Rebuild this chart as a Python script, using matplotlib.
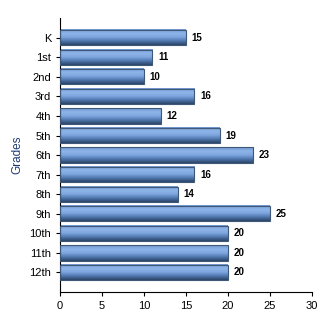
import matplotlib
matplotlib.use('Agg')
import matplotlib.pyplot as plt
import numpy as np

grades = ['K', '1st', '2nd', '3rd', '4th', '5th', '6th', '7th', '8th', '9th', '10th', '11th', '12th']
counts = [15, 11, 10, 16, 12, 19, 23, 16, 14, 25, 20, 20, 20]

plt.rcParams['font.family'] = ['Liberation Sans', 'DejaVu Sans']

fig = plt.figure(figsize=(3.3, 3.3), dpi=100)
ax = fig.add_axes([0.182, 0.115, 0.763, 0.83])

# vertical gradient: light on top, dark at the bottom
grad = np.linspace(0, 1, 64).reshape(-1, 1)
cmap = matplotlib.colors.LinearSegmentedColormap.from_list(
    'bar', ['#6f96cf', '#8fb6ea', '#7ea6df', '#4f76ad', '#2c4568'])

bar_h = 0.78
ys = np.arange(len(grades))
bars = ax.barh(ys, counts, height=bar_h, color='none', edgecolor='#3f5878', linewidth=0.8, zorder=3)
for b in bars:
    x0, y0 = b.get_x(), b.get_y()
    w, h = b.get_width(), b.get_height()
    ax.imshow(grad, cmap=cmap, aspect='auto', extent=(x0, x0 + w, y0 + h, y0),
              origin='upper', zorder=2, interpolation='bilinear')

for y, v in zip(ys, counts):
    ax.text(v + 0.7, y, str(v), va='center', ha='left', fontsize=7,
            fontweight='bold', color='black', zorder=4)

ax.set_xlim(0, 30)
ax.set_ylim(13.0, -1.0)
ax.set_xticks(range(0, 31, 5))
ax.set_yticks(ys)
ax.set_yticklabels(grades)
ax.tick_params(axis='both', labelsize=8, length=3, width=0.8, direction='out')
ax.spines['top'].set_visible(False)
ax.spines['right'].set_visible(False)
ax.set_ylabel('Grades', fontsize=8.5, color='#1f3b73', labelpad=4)

fig.savefig('out.png', dpi=100)
